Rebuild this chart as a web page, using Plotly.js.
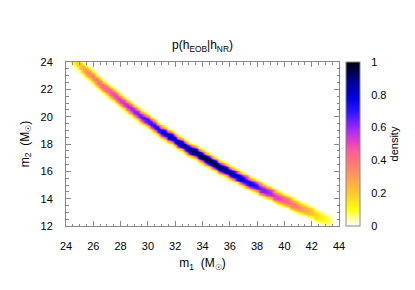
<!DOCTYPE html>
<html>
<head>
<meta charset="utf-8">
<script src="https://cdn.plot.ly/plotly-3.0.1.min.js"></script>
<style>html,body{margin:0;padding:0;background:#fff;}#chart{width:415px;height:290px;}</style>
</head>
<body>
<div id="chart"></div>
<script>
// m1 column centres (M_sun), bin width 0.25
const m1Cols = [24.5,24.75,25,25.25,25.5,25.75,26,26.25,26.5,26.75,27,27.25,27.5,27.75,28,28.25,28.5,28.75,29,29.25,29.5,29.75,30,30.25,30.5,30.75,31,31.25,31.5,31.75,32,32.25,32.5,32.75,33,33.25,33.5,33.75,34,34.25,34.5,34.75,35,35.25,35.5,35.75,36,36.25,36.5,36.75,37,37.25,37.5,37.75,38,38.25,38.5,38.75,39,39.25,39.5,39.75,40,40.25,40.5,40.75,41,41.25,41.5,41.75,42,42.25,42.5,42.75,43,43.25,43.5];
// m2 at the ridge of the band for each m1 column
const m2Ridge = [24.20,23.97,23.75,23.53,23.31,23.09,22.87,22.65,22.43,22.21,21.99,21.79,21.59,21.39,21.19,20.99,20.79,20.59,20.39,20.21,20.03,19.85,19.67,19.49,19.31,19.13,18.95,18.79,18.63,18.46,18.30,18.14,17.98,17.81,17.65,17.50,17.36,17.21,17.06,16.91,16.77,16.62,16.47,16.33,16.20,16.06,15.92,15.78,15.65,15.51,15.37,15.25,15.12,15.00,14.87,14.75,14.62,14.50,14.37,14.25,14.13,14.01,13.89,13.77,13.65,13.53,13.41,13.30,13.19,13.07,12.96,12.85,12.74,12.62,12.51,12.40,12.29];
// peak density along the ridge
const ridgeDensity = [0.12,0.18,0.23,0.28,0.32,0.35,0.38,0.40,0.42,0.44,0.46,0.48,0.50,0.52,0.54,0.56,0.58,0.60,0.62,0.64,0.66,0.68,0.70,0.72,0.74,0.76,0.78,0.80,0.82,0.84,0.86,0.87,0.89,0.90,0.92,0.93,0.95,0.96,0.97,0.98,0.98,0.97,0.96,0.95,0.93,0.91,0.89,0.87,0.85,0.83,0.81,0.79,0.76,0.73,0.70,0.67,0.64,0.61,0.58,0.55,0.52,0.49,0.46,0.43,0.40,0.37,0.34,0.31,0.28,0.25,0.22,0.19,0.16,0.13,0.10,0.07,0.05];
// relative density across the band, offsets in m2 from the ridge
const crossOffsets = [-0.6,-0.5,-0.4,-0.3,-0.2,-0.1,0,0.1,0.2,0.3,0.4,0.5,0.6];
const crossProfile = [0.04,0.12,0.32,0.62,0.87,0.97,1.0,0.97,0.87,0.62,0.32,0.12,0.04];
const m2BinStep = 0.1;
const m2BinMin = 11.0, m2BinMax = 25.0;

// build the heatmap table
const nRows = Math.round((m2BinMax - m2BinMin) / m2BinStep) + 1;
const m2Rows = [];
for (let j = 0; j < nRows; j++) m2Rows.push(+(m2BinMin + j * m2BinStep).toFixed(2));
const half = (crossOffsets.length - 1) / 2;
const z = m2Rows.map(y => m1Cols.map((x, i) => {
  const k = Math.round((y - m2Ridge[i]) / m2BinStep) + half;
  return (k >= 0 && k < crossProfile.length) ? ridgeDensity[i] * crossProfile[k] : 0;
}));

const colorscale = [
  [0.00, '#ffffff'],
  [0.03, '#ffffc0'],
  [0.10, '#ffff10'],
  [0.20, '#ffc830'],
  [0.30, '#ff9c58'],
  [0.38, '#ff7a72'],
  [0.45, '#ff5f96'],
  [0.52, '#de3ccc'],
  [0.58, '#aa2cf4'],
  [0.64, '#6a1eff'],
  [0.70, '#2a14ff'],
  [0.78, '#0000e0'],
  [0.86, '#0000a8'],
  [0.93, '#000058'],
  [1.00, '#000010']
];

const trace = {
  type: 'heatmap',
  x: m1Cols, y: m2Rows, z: z,
  zmin: 0, zmax: 1,
  colorscale: colorscale,
  zsmooth: 'best',
  colorbar: {
    thickness: 14, thicknessmode: 'pixels',
    len: 164, lenmode: 'pixels',
    x: 1 + 7/273, xanchor: 'left', xref: 'paper', xpad: 0,
    y: 0.5, yanchor: 'middle', ypad: 0,
    outlinecolor: '#888', outlinewidth: 1,
    tick0: 0, dtick: 0.2,
    ticks: 'outside', ticklen: 9, tickcolor: 'rgba(0,0,0,0)',
    tickfont: {size: 11, color: '#000'},
    title: {text: 'density', side: 'right', font: {size: 11, color: '#000'}}
  }
};

const axisCommon = {
  showline: true, linecolor: '#888', linewidth: 1, mirror: 'allticks',
  ticks: 'inside', ticklen: 5, tickcolor: '#888', tickwidth: 1,
  showgrid: false, zeroline: false,
  tickfont: {size: 11, color: '#000'},
  minor: {dtick: 0.5, ticks: 'inside', ticklen: 2.5, tickcolor: '#888', tickwidth: 1, showgrid: false}
};

const layout = {
  width: 415, height: 290,
  margin: {l: 66, r: 76, t: 62, b: 64, pad: 0},
  paper_bgcolor: '#fff', plot_bgcolor: '#fff',
  font: {family: 'Liberation Sans, Arial, sans-serif', size: 11, color: '#000'},
  title: {text: 'p(h<sub>EOB</sub>|h<sub>NR</sub>)', x: 0.5, xref: 'paper', y: 1 - 45/290, yref: 'container', yanchor: 'middle', font: {size: 12, color: '#000'}},
  xaxis: Object.assign({}, axisCommon, {
    range: [24, 44], tick0: 24, dtick: 2, ticklabelstandoff: 10,
    title: {text: 'm<sub>1</sub>  (M<sub>☉</sub>)', standoff: 7, font: {size: 12, color: '#000'}}
  }),
  yaxis: Object.assign({}, axisCommon, {
    range: [12, 24], tick0: 12, dtick: 2, ticklabelstandoff: 10,
    title: {text: 'm<sub>2</sub>  (M<sub>☉</sub>)', standoff: 8, font: {size: 12, color: '#000'}}
  }),
  showlegend: false
};

Plotly.newPlot('chart', [trace], layout, {displayModeBar: false, staticPlot: true});
</script>
</body>
</html>
